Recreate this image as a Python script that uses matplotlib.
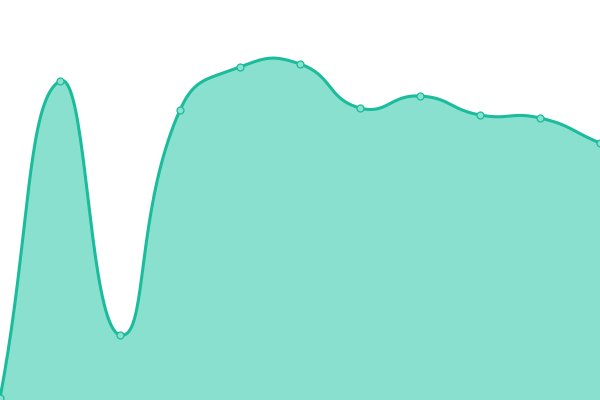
import numpy as np
import matplotlib
matplotlib.use("Agg")
import matplotlib.pyplot as plt

categories = list(range(11))
values = [2, 319, 65, 290, 333, 336, 292, 304, 285, 282, 257]

line_color = "#1abc9c"
fill_color = "#8ae0cf"

def smooth_curve(xs, ys, s=0.5, n=40):
    # work in pixel space: 60 px per category, 1 px per unit
    P = np.column_stack([np.asarray(xs, float) * 60.0, np.asarray(ys, float)])
    N = len(P)
    cps = []
    for i in range(N):
        prev = P[max(i - 1, 0)]
        nxt = P[min(i + 1, N - 1)]
        v = nxt - prev
        d0 = np.linalg.norm(P[i] - prev)
        d1 = np.linalg.norm(nxt - P[i])
        tot = d0 + d1
        if tot == 0:
            cps.append((P[i], P[i]))
            continue
        cp0 = P[i] - v * s * d0 / tot
        cp1 = P[i] + v * s * d1 / tot
        cps.append((cp0, cp1))
    out = []
    for i in range(N - 1):
        a = P[i]; b = cps[i][1]; c = cps[i + 1][0]; d = P[i + 1]
        t = np.linspace(0, 1, n, endpoint=(i == N - 2))[:, None]
        pts = (1 - t)**3 * a + 3 * (1 - t)**2 * t * b + 3 * (1 - t) * t**2 * c + t**3 * d
        out.append(pts)
    out = np.vstack(out)
    return out[:, 0] / 60.0, out[:, 1]

fig = plt.figure(figsize=(6, 4), dpi=100)
ax = fig.add_axes([0, 0, 1, 1])
sx, sy = smooth_curve(categories, values)
ax.fill_between(sx, 0, sy, color=fill_color, lw=0)
ax.plot(sx, sy, color=line_color, lw=2.2, solid_capstyle="round")
ax.plot(categories, values, "o", ms=5, mfc=fill_color, mec=line_color, mew=0.9)
ax.set_xlim(0, 10)
ax.set_ylim(0, 400)
ax.axis("off")
fig.savefig("out.png", dpi=100)
